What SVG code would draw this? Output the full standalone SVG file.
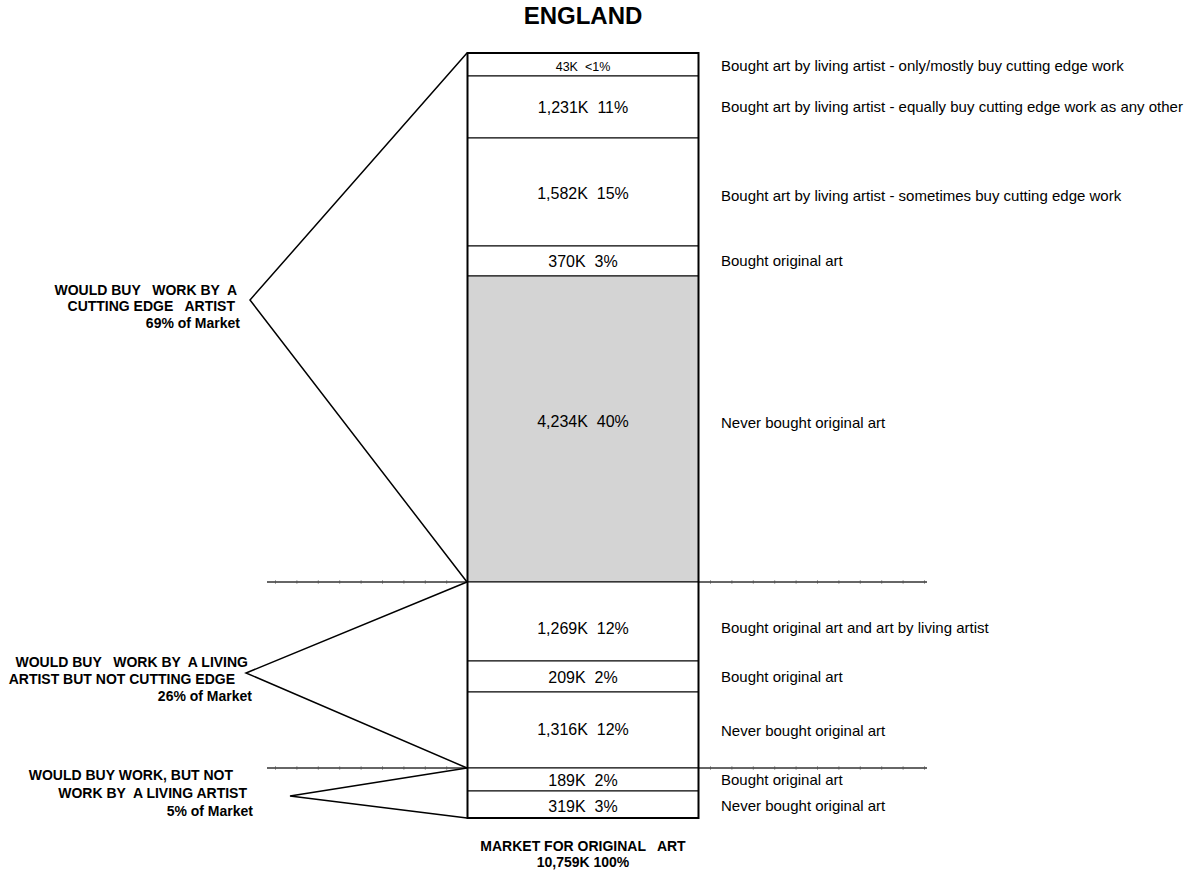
<svg xmlns="http://www.w3.org/2000/svg" width="1186" height="873" viewBox="0 0 1186 873">
<style>
text{font-family:"Liberation Sans",Arial,sans-serif;fill:#000;white-space:pre}
.t{font-size:24px;font-weight:bold;text-anchor:middle}
.n{font-size:16px;text-anchor:middle}
.s{font-size:12.5px;text-anchor:middle}
.r{font-size:15px}
.b{font-size:14px;font-weight:bold;text-anchor:end}
.bc{font-size:14px;font-weight:bold;text-anchor:middle}
.cell{fill:#fff;stroke:#000;stroke-width:1}
.gray{fill:#d4d4d4;stroke:#000;stroke-width:1}
.br{fill:none;stroke:#000;stroke-width:1.5}
.sep{stroke:#333;stroke-width:1.5}
.tick{stroke:#555;stroke-width:3;stroke-dasharray:1 20.4}
</style>
<rect width="1186" height="873" fill="#fff"/>
<text class="t" x="583" y="24">ENGLAND</text>

<g id="connectors">
<line class="sep" x1="267" y1="582" x2="467" y2="582"/>
<line class="sep" x1="699" y1="582" x2="927" y2="582"/>
<line class="sep" x1="267" y1="768" x2="467" y2="768"/>
<line class="sep" x1="699" y1="768" x2="927" y2="768"/>
<line class="tick" x1="275" y1="582" x2="467" y2="582"/>
<line class="tick" x1="710" y1="582" x2="927" y2="582"/>
<line class="tick" x1="275" y1="768" x2="467" y2="768"/>
<line class="tick" x1="710" y1="768" x2="927" y2="768"/>
<polyline class="br" points="467,53 250,300 467,582"/>
<polyline class="br" points="467,582 246,673 467,768"/>
<polyline class="br" points="467,768 290,796 467,818"/>
</g>

<g id="seg1"><rect class="cell" x="467.5" y="53" width="231" height="23"/><text class="s" x="583" y="71">43K  &lt;1%</text><text class="r" x="721" y="71">Bought art by living artist - only/mostly buy cutting edge work</text></g>
<g id="seg2"><rect class="cell" x="467.5" y="76" width="231" height="62"/><text class="n" x="583" y="113">1,231K  11%</text><text class="r" x="721" y="112">Bought art by living artist - equally buy cutting edge work as any other</text></g>
<g id="seg3"><rect class="cell" x="467.5" y="138" width="231" height="108"/><text class="n" x="583" y="199">1,582K  15%</text><text class="r" x="721" y="201">Bought art by living artist - sometimes buy cutting edge work</text></g>
<g id="seg4"><rect class="cell" x="467.5" y="246" width="231" height="30"/><text class="n" x="583" y="267">370K  3%</text><text class="r" x="721" y="266">Bought original art</text></g>
<g id="seg5"><rect class="gray" x="467.5" y="276" width="231" height="306"/><text class="n" x="583" y="427">4,234K  40%</text><text class="r" x="721" y="428">Never bought original art</text></g>
<g id="seg6"><rect class="cell" x="467.5" y="582" width="231" height="79"/><text class="n" x="583" y="634">1,269K  12%</text><text class="r" x="721" y="633">Bought original art and art by living artist</text></g>
<g id="seg7"><rect class="cell" x="467.5" y="661" width="231" height="31"/><text class="n" x="583" y="683">209K  2%</text><text class="r" x="721" y="682">Bought original art</text></g>
<g id="seg8"><rect class="cell" x="467.5" y="692" width="231" height="76"/><text class="n" x="583" y="735">1,316K  12%</text><text class="r" x="721" y="736">Never bought original art</text></g>
<g id="seg9"><rect class="cell" x="467.5" y="768" width="231" height="23"/><text class="n" x="583" y="786">189K  2%</text><text class="r" x="721" y="785">Bought original art</text></g>
<g id="seg10"><rect class="cell" x="467.5" y="791" width="231" height="27"/><text class="n" x="583" y="812">319K  3%</text><text class="r" x="721" y="811">Never bought original art</text></g>

<rect x="467.5" y="53" width="231" height="765" fill="none" stroke="#000" stroke-width="2"/>

<g id="label1">
<text class="b" x="237" y="295">WOULD BUY   WORK BY  A</text>
<text class="b" x="235" y="311">CUTTING EDGE   ARTIST</text>
<text class="b" x="240" y="328">69% of Market</text>
</g>
<g id="label2">
<text class="b" x="248" y="667">WOULD BUY   WORK BY  A LIVING</text>
<text class="b" x="235" y="684">ARTIST BUT NOT CUTTING EDGE</text>
<text class="b" x="252" y="701">26% of Market</text>
</g>
<g id="label3">
<text class="b" x="233" y="780">WOULD BUY WORK, BUT NOT</text>
<text class="b" x="247" y="798">WORK BY  A LIVING ARTIST</text>
<text class="b" x="253" y="816">5% of Market</text>
</g>
<g id="total">
<text class="bc" x="583" y="851">MARKET FOR ORIGINAL   ART</text>
<text class="bc" x="583" y="867">10,759K 100%</text>
</g>
</svg>
